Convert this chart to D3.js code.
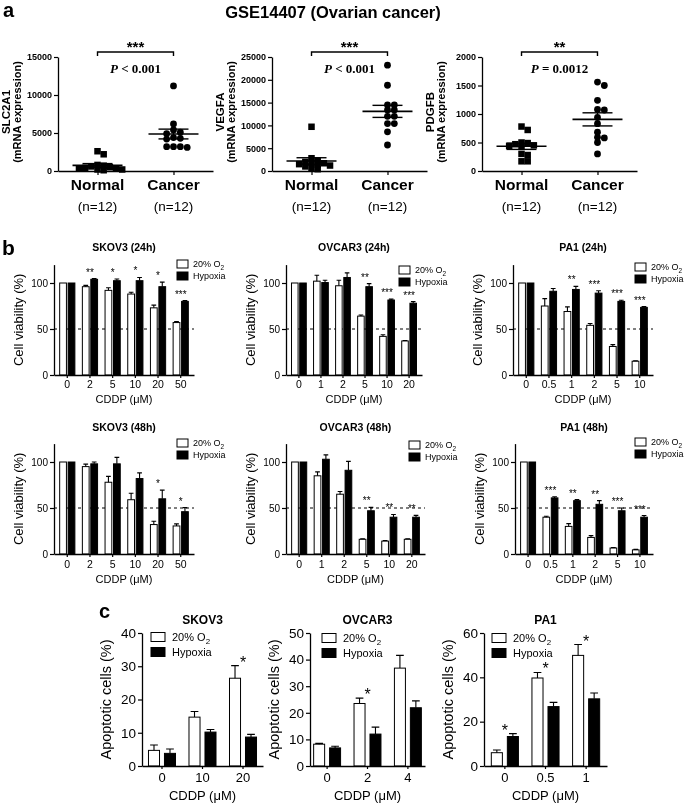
<!DOCTYPE html>
<html>
<head>
<meta charset="utf-8">
<script src="https://cdn.jsdelivr.net/npm/d3@7"></script>
<style>
  body { margin: 0; background: #fff; }
  svg { display: block; will-change: transform; }
</style>
</head>
<body>
<div id="fig"></div>
<script>

// ---------- panel a : GSE14407 expression ----------
var aGroups = ["Normal", "Cancer"];
var slc2a1Normal = [2600, 2200, 800, 700, 600, 500, 400, 300, 300, 200, 200, 100];
var slc2a1Cancer = [11200, 6200, 5400, 5100, 4900, 4400, 4300, 4200, 3200, 3200, 3200, 3100];
var vegfaNormal = [9700, 2800, 2300, 2000, 1800, 1700, 1500, 1400, 1200, 1000, 600, 400];
var vegfaCancer = [23200, 18800, 14500, 14500, 13400, 13400, 12000, 12000, 10400, 10400, 8600, 5700];
var pdgfbNormal = [780, 720, 500, 490, 470, 450, 440, 430, 300, 280, 170, 170];
var pdgfbCancer = [1560, 1500, 1240, 1080, 1070, 940, 830, 680, 590, 580, 500, 300];
var slc2a1Ticks = [0, 5000, 10000, 15000];
var vegfaTicks = [0, 5000, 10000, 15000, 20000, 25000];
var pdgfbTicks = [0, 500, 1000, 1500, 2000];

// ---------- panel b : cell viability ----------
var doseSKOV3 = ["0", "2", "5", "10", "20", "50"];
var doseOVCAR3 = ["0", "1", "2", "5", "10", "20"];
var dosePA1 = ["0", "0.5", "1", "2", "5", "10"];
var viabTicks = [0, 50, 100];

var skov3_24_norm = [100, 96, 92, 88, 73, 57];
var skov3_24_normErr = [0, 1.4, 2.9, 2, 3, 1];
var skov3_24_hyp = [100, 104, 102.5, 102.5, 96, 80];
var skov3_24_hypErr = [0, 0.8, 1.8, 3.5, 5, 0.8];
var skov3_24_sig = ["", "**", "*", "*", "*", "***"];

var ovcar3_24_norm = [100, 102, 97, 64, 42, 37];
var ovcar3_24_normErr = [0, 6.5, 6, 1.2, 1.7, 0.5];
var ovcar3_24_hyp = [100, 100.5, 106, 96, 81.5, 78];
var ovcar3_24_hypErr = [0, 2.5, 5, 3.3, 1, 1.8];
var ovcar3_24_sig = ["", "", "", "**", "***", "***"];

var pa1_24_norm = [100, 75, 69, 54, 31, 15];
var pa1_24_normErr = [0, 8, 5, 2, 2, 0.5];
var pa1_24_hyp = [100, 91, 93, 89, 80, 73.5];
var pa1_24_hypErr = [0, 3, 3.3, 2.5, 1.2, 0.8];
var pa1_24_sig = ["", "", "**", "***", "***", "***"];

var skov3_48_norm = [100, 95, 78, 59, 32, 30.5];
var skov3_48_normErr = [0, 2.7, 6.4, 7, 3.6, 2.2];
var skov3_48_hyp = [100, 98, 98, 82, 60, 46];
var skov3_48_hypErr = [0, 2, 7, 6.2, 9.4, 4.4];
var skov3_48_sig = ["", "", "", "", "*", "*"];

var ovcar3_48_norm = [100, 85, 65, 16, 14, 16];
var ovcar3_48_normErr = [0, 4.3, 3, 0.6, 0.6, 0.5];
var ovcar3_48_hyp = [100, 103, 91, 47, 40, 40];
var ovcar3_48_hypErr = [0, 4.7, 9.7, 3.7, 3, 2];
var ovcar3_48_sig = ["", "", "", "**", "**", "**"];

var pa1_48_norm = [100, 40, 30, 18, 6.5, 4.5];
var pa1_48_normErr = [0, 1, 3, 2, 0.5, 0.5];
var pa1_48_hyp = [100, 61, 58, 54, 47, 40];
var pa1_48_hypErr = [0, 1.3, 1.1, 4, 3, 1.8];
var pa1_48_sig = ["", "***", "**", "**", "***", "***"];

// ---------- panel c : apoptosis ----------
var cDoseSKOV3 = ["0", "10", "20"];
var cDoseOVCAR3 = ["0", "2", "4"];
var cDosePA1 = ["0", "0.5", "1"];

var skov3_apo_norm = [4.7, 14.7, 26.4];
var skov3_apo_normErr = [1.6, 1.7, 3.8];
var skov3_apo_hyp = [3.8, 10.2, 8.7];
var skov3_apo_hypErr = [1.3, 0.8, 0.8];
var skov3_apo_sig = ["", "", "*"];
var skov3_apo_ticks = [0, 10, 20, 30, 40];

var ovcar3_apo_norm = [8.2, 23.5, 36.8];
var ovcar3_apo_normErr = [0.3, 2, 4.8];
var ovcar3_apo_hyp = [6.8, 12, 21.9];
var ovcar3_apo_hypErr = [0.6, 2.6, 2.6];
var ovcar3_apo_sig = ["", "*", ""];
var ovcar3_apo_ticks = [0, 10, 20, 30, 40, 50];

var pa1_apo_norm = [6, 39.7, 49.9];
var pa1_apo_normErr = [1.2, 2.5, 4.9];
var pa1_apo_hyp = [13.3, 26.8, 30.3];
var pa1_apo_hypErr = [1.3, 1.9, 2.6];
var pa1_apo_sig = ["*", "*", "*"];
var pa1_apo_ticks = [0, 20, 40, 60];


var SANS = '"Liberation Sans", Arial, Helvetica, sans-serif';
var SERIF = '"Liberation Serif", "Times New Roman", serif';

var svg = d3.select("#fig")
  .append("svg")
    .attr("width", 685)
    .attr("height", 804)
    .attr("font-family", SANS);

// panel letters and title
svg.append("text").attr("x", 3).attr("y", 17).attr("font-size", 20).attr("font-weight", "bold").text("a");
svg.append("text").attr("x", 2).attr("y", 255).attr("font-size", 21).attr("font-weight", "bold").text("b");
svg.append("text").attr("x", 99).attr("y", 618).attr("font-size", 20).attr("font-weight", "bold").text("c");
svg.append("text").attr("x", 333).attr("y", 18).attr("text-anchor", "middle")
  .attr("font-size", 16.5).attr("font-weight", "bold").text("GSE14407 (Ovarian cancer)");


function styleAxis(ax, fs, bold) {
  ax.select(".domain").attr("stroke-width", 1.3);
  ax.selectAll(".tick line").attr("stroke-width", 1.2);
  ax.selectAll("text")
    .attr("font-family", SANS)
    .attr("font-size", fs)
    .attr("font-weight", bold ? "bold" : "normal")
    .attr("fill", "#000");
}

// spread points that would overlap sideways (prism-like scatter)
function swarm(vals, cx, y, size) {
  var placed = [];
  vals.slice().sort(d3.descending).forEach(function(v) {
    var py = y(v);
    for (var k = 0; k < 40; k++) {
      var off = k === 0 ? 0 : (k % 2 ? 1 : -1) * Math.ceil(k / 2) * size * 0.95;
      var hit = placed.some(function(p) {
        return Math.abs(p.x - (cx + off)) < size * 0.9 && Math.abs(p.y - py) < size * 0.6;
      });
      if (!hit) { placed.push({x: cx + off, y: py, v: v}); break; }
    }
  });
  return placed;
}

function scatterPanel(c) {
  var g = svg.append("g");
  var y = d3.scaleLinear().domain([0, c.ymax]).range([171, 57]);
  var x = d3.scalePoint().domain(aGroups).range([c.ax, c.ax + 155]).padding(0.52);

  var yAx = g.append("g")
    .attr("transform", "translate(" + c.ax + ",0)")
    .call(d3.axisLeft(y).tickValues(c.ticks).tickFormat(d3.format("d"))
      .tickSize(4).tickSizeOuter(0).tickPadding(2));
  styleAxis(yAx, 9, true);

  var xAx = g.append("g")
    .attr("transform", "translate(0,171)")
    .call(d3.axisBottom(x).tickSize(4).tickSizeOuter(0).tickFormat(""));
  styleAxis(xAx, 10, true);

  // category labels
  aGroups.forEach(function(d) {
    g.append("text").attr("x", x(d)).attr("y", 190).attr("text-anchor", "middle")
      .attr("font-size", 15.5).attr("font-weight", "bold").text(d);
    g.append("text").attr("x", x(d)).attr("y", 211).attr("text-anchor", "middle")
      .attr("font-size", 13.5).text("(n=12)");
  });

  // y label, two lines
  var ly = 112;
  g.append("text").attr("transform", "translate(" + (c.ax - 48) + "," + ly + ")rotate(-90)")
    .attr("text-anchor", "middle").attr("font-size", 11.5).attr("font-weight", "bold").text(c.gene);
  g.append("text").attr("transform", "translate(" + (c.ax - 37) + "," + ly + ")rotate(-90)")
    .attr("text-anchor", "middle").attr("font-size", 11).attr("font-weight", "bold").text("(mRNA expression)");

  // points
  var sq = 6.5;
  var nPts = swarm(c.normal, x("Normal"), y, sq);
  g.selectAll("rect.pt").data(nPts).enter().append("rect")
    .attr("x", function(d) { return d.x - sq / 2; })
    .attr("y", function(d) { return d.y - sq / 2; })
    .attr("width", sq).attr("height", sq).attr("fill", "#000");
  var cPts = swarm(c.cancer, x("Cancer"), y, 7.2);
  g.selectAll("circle.pt").data(cPts).enter().append("circle")
    .attr("cx", function(d) { return d.x; })
    .attr("cy", function(d) { return d.y; })
    .attr("r", 3.4).attr("fill", "#000");

  // mean +- sem
  [["Normal", c.normal], ["Cancer", c.cancer]].forEach(function(p) {
    var m = d3.mean(p[1]);
    var se = d3.deviation(p[1]) / Math.sqrt(p[1].length);
    var cx = x(p[0]);
    g.append("line").attr("x1", cx - 25).attr("x2", cx + 25).attr("y1", y(m)).attr("y2", y(m))
      .attr("stroke", "#000").attr("stroke-width", 1.6);
    g.append("line").attr("x1", cx).attr("x2", cx).attr("y1", y(m - se)).attr("y2", y(m + se))
      .attr("stroke", "#000").attr("stroke-width", 1.4);
    [m - se, m + se].forEach(function(v) {
      g.append("line").attr("x1", cx - 15).attr("x2", cx + 15).attr("y1", y(v)).attr("y2", y(v))
        .attr("stroke", "#000").attr("stroke-width", 1.4);
    });
  });

  // significance bracket
  var x1 = x("Normal"), x2 = x("Cancer");
  g.append("path")
    .attr("d", "M" + x1 + ",56V52H" + x2 + "V56")
    .attr("fill", "none").attr("stroke", "#000").attr("stroke-width", 1.4);
  g.append("text").attr("x", (x1 + x2) / 2).attr("y", 52).attr("text-anchor", "middle")
    .attr("font-size", 15).attr("font-weight", "bold").text(c.stars);
  var pt = g.append("text").attr("x", (x1 + x2) / 2).attr("y", 73).attr("text-anchor", "middle")
    .attr("font-family", SERIF).attr("font-size", 13).attr("font-weight", "bold");
  pt.append("tspan").attr("font-style", "italic").text("P");
  pt.append("tspan").text(c.ptext);
}

scatterPanel({ax: 58, ymax: 15000, ticks: slc2a1Ticks, gene: "SLC2A1", normal: slc2a1Normal, cancer: slc2a1Cancer, stars: "***", ptext: " < 0.001"});
scatterPanel({ax: 272, ymax: 25000, ticks: vegfaTicks, gene: "VEGFA", normal: vegfaNormal, cancer: vegfaCancer, stars: "***", ptext: " < 0.001"});
scatterPanel({ax: 482, ymax: 2000, ticks: pdgfbTicks, gene: "PDGFB", normal: pdgfbNormal, cancer: pdgfbCancer, stars: "**", ptext: " = 0.0012"});


// ---------- grouped bar chart (panels b and c) ----------
var styleB = {tick: 10, xtick: 10.5, ylab: 13, xlab: 11, title: 10.5, legend: 9, star: 10,
              boxW: 11, boxH: 8, legRow: 12, legGap: 16, padIn: 0.33, gap: 0.2, ylabel: "Cell viability (%)"};
var styleC = {tick: 13.5, xtick: 13, ylab: 14.5, xlab: 13, title: 12, legend: 11, star: 16,
              boxW: 14, boxH: 9, legRow: 15, legGap: 21, padIn: 0.333, gap: 0.31, ylabel: "Apoptotic cells (%)"};

function barPanel(c, s) {
  var g = svg.append("g");
  var rows = c.cats.map(function(d, i) {
    return {cat: d, norm: c.norm[i], normErr: c.normErr[i], hyp: c.hyp[i], hypErr: c.hypErr[i], sig: c.sig[i]};
  });

  var y = d3.scaleLinear().domain([0, c.ymax]).range([c.y0, c.yTop]);
  var x = d3.scaleBand().domain(c.cats).range([c.ax, c.ex])
    .paddingInner(s.padIn).paddingOuter(c.padOut);
  var sub = d3.scaleBand().domain(["norm", "hyp"]).range([0, x.bandwidth()]).paddingInner(s.gap);

  // dashed 50% line
  if (c.dashed) {
    g.append("line").attr("x1", c.ax).attr("x2", c.ex).attr("y1", y(50)).attr("y2", y(50))
      .attr("stroke", "#000").attr("stroke-width", 1).attr("stroke-dasharray", "3,3");
  }

  // bars
  ["norm", "hyp"].forEach(function(k) {
    g.selectAll("rect." + k).data(rows).enter().append("rect")
      .attr("x", function(d) { return x(d.cat) + sub(k); })
      .attr("y", function(d) { return y(d[k]); })
      .attr("width", sub.bandwidth())
      .attr("height", function(d) { return c.y0 - y(d[k]); })
      .attr("fill", k === "norm" ? "#fff" : "#000")
      .attr("stroke", "#000").attr("stroke-width", 1);

    // error bars (upper only)
    rows.forEach(function(d) {
      if (!d[k + "Err"]) return;
      var cx = x(d.cat) + sub(k) + sub.bandwidth() / 2;
      var top = y(d[k] + d[k + "Err"]);
      var cw = sub.bandwidth() * 0.35;
      g.append("path")
        .attr("d", "M" + cx + "," + y(d[k]) + "V" + top + "M" + (cx - cw) + "," + top + "H" + (cx + cw))
        .attr("fill", "none").attr("stroke", "#000").attr("stroke-width", 1.1);
    });
  });

  // significance stars
  g.selectAll("text.sig").data(rows.filter(function(d) { return d.sig; })).enter().append("text")
    .attr("x", function(d) { return x(d.cat) + x.bandwidth() / 2; })
    .attr("y", function(d) {
      return y(Math.max(d.norm + d.normErr, d.hyp + d.hypErr)) + c.starOff;
    })
    .attr("text-anchor", "middle").attr("font-size", s.star).attr("fill", "#000")
    .text(function(d) { return d.sig; });

  // axes
  var yAx = g.append("g").attr("transform", "translate(" + c.ax + ",0)")
    .call(d3.axisLeft(y).tickValues(c.ticks).tickSize(4).tickSizeOuter(0).tickPadding(2));
  styleAxis(yAx, s.tick, false);
  var xAx = g.append("g").attr("transform", "translate(0," + c.y0 + ")")
    .call(d3.axisBottom(x).tickSize(3).tickSizeOuter(0).tickPadding(2));
  styleAxis(xAx, s.xtick, false);
  xAx.selectAll("text").attr("dy", null).attr("y", c.xtickY - c.y0);

  var mid = (c.ax + c.ex) / 2;
  g.append("text").attr("x", mid).attr("y", c.titleY).attr("text-anchor", "middle")
    .attr("font-size", s.title).attr("font-weight", "bold").text(c.title);
  g.append("text").attr("x", mid).attr("y", c.xlabY).attr("text-anchor", "middle")
    .attr("font-size", s.xlab).text("CDDP (\u03bcM)");
  g.append("text").attr("transform", "translate(" + (c.ax - 31) + "," + ((c.y0 + c.yTop) / 2) + ")rotate(-90)")
    .attr("text-anchor", "middle").attr("font-size", s.ylab).text(s.ylabel);

  // legend
  [["20% O", "#fff"], ["Hypoxia", "#000"]].forEach(function(l, i) {
    var cy = c.legY + i * s.legRow;
    g.append("rect").attr("x", c.legX).attr("y", cy - s.boxH / 2)
      .attr("width", s.boxW).attr("height", s.boxH)
      .attr("fill", l[1]).attr("stroke", "#000").attr("stroke-width", 1);
    var t = g.append("text").attr("x", c.legX + s.legGap).attr("y", cy + s.legend * 0.36)
      .attr("font-size", s.legend).text(l[0]);
    if (i === 0) {
      t.append("tspan").attr("font-size", s.legend * 0.72).attr("dy", s.legend * 0.28).text("2");
    }
  });
}

// rows of panel b
var r1 = {y0: 375, yTop: 264.6, xtickY: 388, xlabY: 403, titleY: 251};
var r2 = {y0: 554, yTop: 443.6, xtickY: 568, xlabY: 583, titleY: 431};

function bConf(row, o) {
  return Object.assign({ymax: 120, ticks: viabTicks, dashed: true, padOut: 0.25, starOff: -3}, row, o);
}

barPanel(bConf(r1, {ax: 54, ex: 194, cats: doseSKOV3, title: "SKOV3 (24h)", legX: 177, legY: 264,
  norm: skov3_24_norm, normErr: skov3_24_normErr, hyp: skov3_24_hyp, hypErr: skov3_24_hypErr, sig: skov3_24_sig}), styleB);
barPanel(bConf(r1, {ax: 286, ex: 422, cats: doseOVCAR3, title: "OVCAR3 (24h)", legX: 399, legY: 270,
  norm: ovcar3_24_norm, normErr: ovcar3_24_normErr, hyp: ovcar3_24_hyp, hypErr: ovcar3_24_hypErr, sig: ovcar3_24_sig}), styleB);
barPanel(bConf(r1, {ax: 513, ex: 653, cats: dosePA1, title: "PA1 (24h)", legX: 635, legY: 267,
  norm: pa1_24_norm, normErr: pa1_24_normErr, hyp: pa1_24_hyp, hypErr: pa1_24_hypErr, sig: pa1_24_sig}), styleB);

barPanel(bConf(r2, {ax: 54, ex: 194, cats: doseSKOV3, title: "SKOV3 (48h)", legX: 177, legY: 443,
  norm: skov3_48_norm, normErr: skov3_48_normErr, hyp: skov3_48_hyp, hypErr: skov3_48_hypErr, sig: skov3_48_sig}), styleB);
barPanel(bConf(r2, {ax: 286, ex: 425, cats: doseOVCAR3, title: "OVCAR3 (48h)", legX: 409, legY: 445,
  norm: ovcar3_48_norm, normErr: ovcar3_48_normErr, hyp: ovcar3_48_hyp, hypErr: ovcar3_48_hypErr, sig: ovcar3_48_sig}), styleB);
barPanel(bConf(r2, {ax: 515, ex: 653, cats: dosePA1, title: "PA1 (48h)", legX: 635, legY: 442,
  norm: pa1_48_norm, normErr: pa1_48_normErr, hyp: pa1_48_hyp, hypErr: pa1_48_hypErr, sig: pa1_48_sig}), styleB);

// panel c
var rc = {y0: 766, yTop: 633, xtickY: 782, xlabY: 800, titleY: 624, dashed: false, starOff: 2};

barPanel(Object.assign({}, rc, {ax: 142, ex: 263, padOut: 0.16, ymax: 40, ticks: skov3_apo_ticks, cats: cDoseSKOV3,
  title: "SKOV3", legX: 151, legY: 637,
  norm: skov3_apo_norm, normErr: skov3_apo_normErr, hyp: skov3_apo_hyp, hypErr: skov3_apo_hypErr, sig: skov3_apo_sig}), styleC);
barPanel(Object.assign({}, rc, {ax: 310, ex: 425, padOut: 0.09, ymax: 50, ticks: ovcar3_apo_ticks, cats: cDoseOVCAR3,
  title: "OVCAR3", legX: 322, legY: 638,
  norm: ovcar3_apo_norm, normErr: ovcar3_apo_normErr, hyp: ovcar3_apo_hyp, hypErr: ovcar3_apo_hypErr, sig: ovcar3_apo_sig}), styleC);
barPanel(Object.assign({}, rc, {ax: 484, ex: 607, padOut: 0.18, ymax: 60, ticks: pa1_apo_ticks, cats: cDosePA1,
  title: "PA1", legX: 492, legY: 638,
  norm: pa1_apo_norm, normErr: pa1_apo_normErr, hyp: pa1_apo_hyp, hypErr: pa1_apo_hypErr, sig: pa1_apo_sig}), styleC);

</script>
</body>
</html>
